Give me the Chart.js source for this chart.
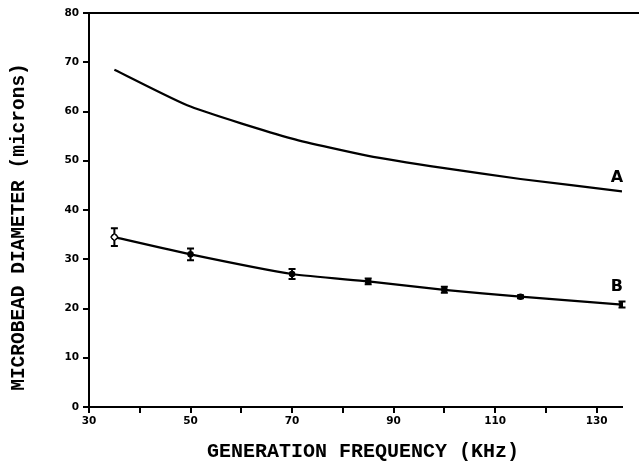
<!DOCTYPE html>
<html><head><meta charset="utf-8">
<script src="https://cdn.jsdelivr.net/npm/chart.js@4.4.0/dist/chart.umd.min.js"></script>
<style>html,body{margin:0;padding:0;background:#fff}#wrap{width:639px;height:462px}</style>
</head><body><div id="wrap"><canvas id="c" width="639" height="462"></canvas></div>
<script>
const frequencies = [35, 50, 70, 85, 100, 115, 135];
const seriesA = [68.5, 61.0, 54.5, 51.0, 48.5, 46.3, 43.8];
const seriesB = [34.5, 31.0, 27.0, 25.5, 23.8, 22.4, 20.8];
const errorB = [1.8, 1.2, 1.0, 0.6, 0.6, 0.3, 0.6];
const xLabelTicks = [30, 50, 70, 90, 110, 130];
const yTicks = [0, 10, 20, 30, 40, 50, 60, 70, 80];
const curveLabels = [{text: 'A', x: 134, y: 46.5}, {text: 'B', x: 134, y: 24.4}];
const xTitle = 'GENERATION FREQUENCY (KHz)';
const yTitle = 'MICROBEAD DIAMETER (microns)';

const ptsA = frequencies.map((f, i) => ({x: f, y: seriesA[i]}));
const ptsB = frequencies.map((f, i) => ({x: f, y: seriesB[i]}));

const extras = {
  id: 'extras',
  afterDatasetsDraw(chart) {
    const ctx = chart.ctx, xs = chart.scales.x, ys = chart.scales.y, ca = chart.chartArea;
    ctx.save();
    ctx.strokeStyle = '#000'; ctx.lineWidth = 2;
    ctx.beginPath(); ctx.moveTo(ca.left, ca.top); ctx.lineTo(chart.width, ca.top); ctx.stroke();
    ctx.lineWidth = 2;
    frequencies.forEach((f, i) => {
      const px = xs.getPixelForValue(f);
      const y1 = ys.getPixelForValue(seriesB[i] - errorB[i]);
      const y2 = ys.getPixelForValue(seriesB[i] + errorB[i]);
      ctx.beginPath();
      ctx.moveTo(px, y1); ctx.lineTo(px, y2);
      ctx.moveTo(px - 3.5, y1); ctx.lineTo(px + 3.5, y1);
      ctx.moveTo(px - 3.5, y2); ctx.lineTo(px + 3.5, y2);
      ctx.stroke();
    });
    const d0x = xs.getPixelForValue(frequencies[0]), d0y = ys.getPixelForValue(seriesB[0]);
    ctx.fillStyle = '#fff'; ctx.lineWidth = 1.2;
    ctx.beginPath(); ctx.moveTo(d0x, d0y - 3.5); ctx.lineTo(d0x + 3.5, d0y); ctx.lineTo(d0x, d0y + 3.5); ctx.lineTo(d0x - 3.5, d0y); ctx.closePath();
    ctx.fill(); ctx.stroke();
    ctx.fillStyle = '#000'; ctx.font = 'bold 16px "DejaVu Sans", Arial, sans-serif';
    ctx.textAlign = 'center'; ctx.textBaseline = 'middle';
    curveLabels.forEach(l => ctx.fillText(l.text, xs.getPixelForValue(l.x), ys.getPixelForValue(l.y)));
    // axis titles
    ctx.font = 'bold 20px "Liberation Mono", "Courier New", monospace';
    ctx.fillText(xTitle, 363, 452);
    ctx.translate(19, 227);
    ctx.rotate(-Math.PI / 2);
    ctx.font = 'bold 19.5px "Liberation Mono", "Courier New", monospace';
    ctx.fillText(yTitle, 0, 0);
    ctx.restore();
  }
};

const tickFont = {family: '"DejaVu Sans", Arial, sans-serif', size: 10.5, weight: 'bold'};

new Chart(document.getElementById('c'), {
  type: 'line',
  data: {datasets: [
    {label: 'A', data: ptsA, borderColor: '#000', borderWidth: 2.2, pointRadius: 0, tension: 0.2, fill: false},
    {label: 'B', data: ptsB, borderColor: '#000', borderWidth: 2.2, pointRadius: 2.2, pointBackgroundColor: '#000', pointBorderColor: '#000', tension: 0.2, fill: false}
  ]},
  options: {
    responsive: false, animation: false, devicePixelRatio: 1,
    layout: {padding: {top: 13, right: 17, left: 0, bottom: 0}},
    plugins: {legend: {display: false}, tooltip: {enabled: false}},
    scales: {
      x: {
        type: 'linear', min: 30, max: 135,
        afterBuildTicks(s) { s.ticks = []; for (let v = 30; v <= 130; v += 10) s.ticks.push({value: v}); },
        afterFit(s) { s.height = 55; },
        ticks: {color: '#000', font: tickFont, padding: 2, autoSkip: false, maxRotation: 0,
          callback: v => xLabelTicks.includes(v) ? String(v) : ''},
        grid: {drawOnChartArea: false, drawTicks: true, tickLength: 6, color: '#000', lineWidth: 2},
        border: {display: true, color: '#000', width: 2}
      },
      y: {
        type: 'linear', min: 0, max: 80,
        afterBuildTicks(s) { s.ticks = yTicks.map(v => ({value: v})); },
        afterFit(s) { s.width = 89; },
        ticks: {color: '#000', font: tickFont, padding: 4},
        grid: {drawOnChartArea: false, drawTicks: true, tickLength: 6, color: '#000', lineWidth: 2},
        border: {display: true, color: '#000', width: 2}
      }
    }
  },
  plugins: [extras]
});
</script></body></html>
